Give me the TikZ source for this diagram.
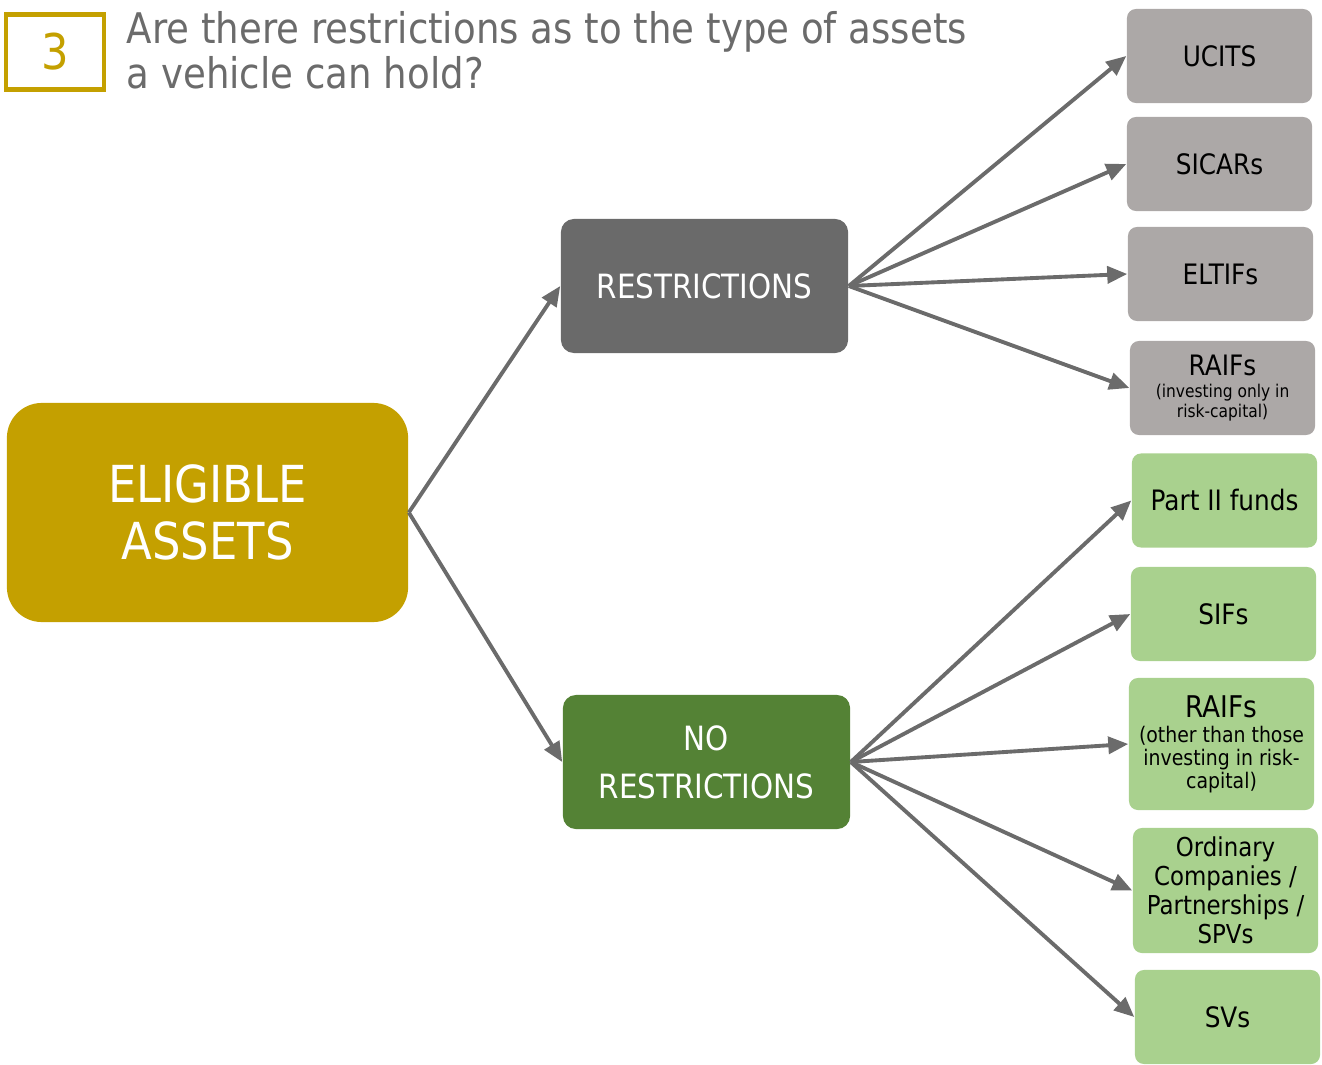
\documentclass[tikz,border=0pt]{standalone}
\usepackage{fontspec}
\setmainfont{DejaVu Sans}[FakeStretch=0.88]
\usetikzlibrary{arrows.meta,positioning}
\definecolor{gold}{RGB}{196,160,0}
\definecolor{titlegrey}{RGB}{107,107,107}
\definecolor{darkgrey}{RGB}{106,106,106}
\definecolor{darkgreen}{RGB}{84,130,53}
\definecolor{lightgrey}{RGB}{172,168,167}
\definecolor{lightgreen}{RGB}{169,209,142}
\definecolor{arrowgrey}{RGB}{107,107,107}
\newcommand{\smalltext}[1]{{\fontsize{5}{5.6}\selectfont #1}}
\newcommand{\midtext}[1]{{\fontsize{6.1}{6.5}\selectfont #1}}

\begin{document}
\begin{tikzpicture}[x=0.01cm,y=-0.01cm]
\tikzstyle{hdrbox}=[draw=gold,line width=1.2pt,minimum width=0.98cm,minimum height=0.75cm,text=gold,font=\fontsize{14}{16}\selectfont]
\tikzstyle{title}=[anchor=north west,inner sep=0pt,align=left,text=titlegrey,font=\fontsize{12}{11.4}\selectfont]
\tikzstyle{bigbox}=[rounded corners=0.13cm,align=center,inner sep=0pt,text=white,minimum width=2.87cm,minimum height=1.34cm,font=\fontsize{9.5}{13.6}\selectfont]
\tikzstyle{box}=[rounded corners=0.09cm,align=center,inner sep=0pt,text=black,minimum width=1.85cm,minimum height=0.94cm,font=\fontsize{8}{8.2}\selectfont]
\tikzstyle{greybox}=[box,fill=lightgrey]
\tikzstyle{greenbox}=[box,fill=lightgreen]
\tikzstyle{arrow}=[draw=arrowgrey,line width=1.1pt,-{Triangle[length=0.2cm,width=0.17cm]}]
\useasboundingbox (0,0) rectangle (1322,1064);
% header
\node [hdrbox] (num) at (55,52) {3};
\node [title] (ttl) at (126,11) {Are there restrictions as to the type of assets\\a vehicle can hold?};
% left and middle
\node [rounded corners=0.35cm,fill=gold,text=white,align=center,minimum width=4.01cm,minimum height=2.19cm,font=\fontsize{14.5}{16.2}\selectfont] (elig) at (207.5,512.5) {ELIGIBLE\\ASSETS};
\node [bigbox,fill=darkgrey] (restr) at (704.5,286) {RESTRICTIONS};
\node [bigbox,fill=darkgreen] (norestr) at (706.5,762) {NO\\RESTRICTIONS};
% restricted vehicles
\node [greybox] (r1) at (1219.5,56) {UCITS};
\node [greybox] (r2) at (1219.5,164) {SICARs};
\node [greybox] (r3) at (1220.5,274) {ELTIFs};
\node [greybox,font=\fontsize{8}{5.6}\selectfont] (r4) at (1222.5,388) {RAIFs\\[0.6pt]\smalltext{(investing only in}\\\smalltext{risk-capital)}};
% unrestricted vehicles
\node [greenbox] (n1) at (1224.5,500.5) {Part II funds};
\node [greenbox] (n2) at (1223.5,614) {SIFs};
\node [greenbox,minimum height=1.32cm,font=\fontsize{8.5}{6.5}\selectfont] (n3) at (1221.5,744) {RAIFs\\[0.6pt]\midtext{(other than those}\\\midtext{investing in risk-}\\\midtext{capital)}};
\node [greenbox,minimum height=1.25cm,font=\fontsize{7.4}{8.2}\selectfont] (n4) at (1225.5,890.5) {Ordinary\\Companies /\\Partnerships /\\SPVs};
\node [greenbox] (n5) at (1227.5,1017) {SVs};
% connectors
\draw (elig.east) edge [arrow] (restr.west);
\draw (elig.east) edge [arrow] (norestr.west);
\draw (restr.east) edge [arrow] (r1.west);
\draw (restr.east) edge [arrow] (r2.west);
\draw (restr.east) edge [arrow] (r3.west);
\draw (restr.east) edge [arrow] (r4.west);
\draw (norestr.east) edge [arrow] (n1.west);
\draw (norestr.east) edge [arrow] (n2.west);
\draw (norestr.east) edge [arrow] (n3.west);
\draw (norestr.east) edge [arrow] (n4.west);
\draw (norestr.east) edge [arrow] (n5.west);
\end{tikzpicture}
\end{document}
